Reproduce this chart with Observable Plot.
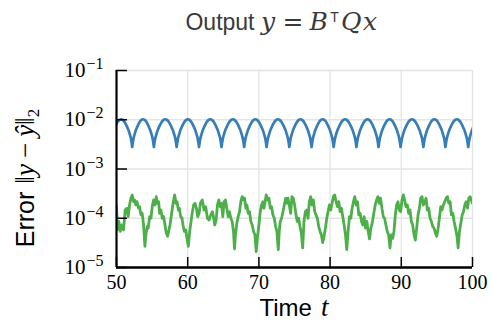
<!DOCTYPE html>
<html><head><meta charset="utf-8">
<script src="https://cdn.jsdelivr.net/npm/d3@7"></script>
<script src="https://cdn.jsdelivr.net/npm/@observablehq/plot@0.6"></script>
<style>
body{margin:0;background:#fff;}
#wrap{position:relative;width:491px;height:330px;}
#title{position:absolute;left:0;top:11px;width:564px;text-align:center;font-family:"Liberation Sans",Arial,sans-serif;font-size:23px;line-height:22px;color:#3a3a3a;white-space:nowrap;}
#title .m{font-family:"DejaVu Serif",serif;font-style:italic;font-size:25px;letter-spacing:1.5px;}
#title .r{font-family:"DejaVu Serif",serif;font-size:25px;margin:0 6px;}
#title sup{font-family:"Liberation Sans",sans-serif;font-size:14px;font-style:normal;vertical-align:0.6em;line-height:0;margin:0 2px 0 1px;}
</style></head>
<body>
<div id="wrap"><div id="title">Output <span class="m">y</span><span class="r">=</span><span class="m">B</span><sup>T</sup><span class="m">Qx</span></div></div>
<script>
// axis ticks
const xTicks = [50, 60, 70, 80, 90, 100];
const yTicks = [1e-5, 1e-4, 1e-3, 1e-2, 1e-1];

// blue series: times of the sharp minima, and one period's shape (phase within period, value)
const blueTroughT = [49.07, 52.21, 55.25, 58.45, 61.59, 64.75, 67.93, 71.08, 74.27, 77.4, 80.5, 83.7, 86.8, 89.9, 93.1, 96.2, 99.4, 102.54];
const blueProfilePhase = [0, 0.032, 0.064, 0.105, 0.16, 0.255, 0.35, 0.43, 0.5, 0.57, 0.65, 0.745, 0.84, 0.895, 0.936, 0.968];
const blueProfileV = [2.8e-3, 3.55e-3, 4.27e-3, 5.01e-3, 6.03e-3, 7.59e-3, 9.12e-3, 1.0e-2, 1.023e-2, 1.0e-2, 9.12e-3, 7.59e-3, 6.03e-3, 5.01e-3, 4.27e-3, 3.55e-3];

// green series: time and error (in units of 1e-4)
const greenT = [50.00,50.14,50.33,50.52,50.75,50.99,51.22,51.46,51.64,51.83,52.02,52.21,52.39,52.53,52.72,52.86,53.10,53.24,53.43,53.61,53.80,53.99,54.13,54.32,54.46,54.65,54.84,55.02,55.21,55.40,55.59,55.73,55.91,56.06,56.24,56.43,56.62,56.81,56.99,57.18,57.32,57.51,57.65,57.84,58.03,58.17,58.36,58.50,58.69,58.83,59.01,59.20,59.34,59.53,59.72,59.90,60.09,60.28,60.47,60.66,60.84,61.03,61.22,61.41,61.60,61.78,62.05,62.30,62.53,62.77,63.00,63.24,63.47,63.61,63.80,63.99,64.18,64.37,64.55,64.74,64.93,65.12,65.30,65.49,65.68,65.87,66.06,66.24,66.43,66.57,66.71,66.90,67.09,67.28,67.46,67.65,67.84,67.98,68.17,68.31,68.50,68.68,68.87,69.06,69.25,69.44,69.62,69.81,70.00,70.19,70.37,70.56,70.70,70.84,71.03,71.22,71.41,71.60,71.78,71.97,72.16,72.35,72.53,72.72,72.86,73.00,73.19,73.38,73.57,73.75,73.94,74.08,74.27,74.46,74.64,74.83,75.02,75.21,75.39,75.58,75.77,75.96,76.15,76.33,76.52,76.71,76.90,77.08,77.27,77.46,77.65,77.84,78.02,78.21,78.40,78.59,78.77,78.96,79.15,79.34,79.53,79.71,79.90,80.09,80.28,80.46,80.65,80.84,81.03,81.22,81.40,81.59,81.78,81.97,82.16,82.34,82.53,82.72,82.91,83.09,83.28,83.47,83.66,83.85,84.03,84.22,84.41,84.60,84.78,84.97,85.16,85.35,85.54,85.72,85.91,86.10,86.34,86.53,86.72,86.90,87.09,87.28,87.47,87.65,87.84,88.03,88.22,88.41,88.59,88.78,88.97,89.16,89.34,89.53,89.72,89.91,90.10,90.28,90.47,90.66,90.85,91.03,91.22,91.41,91.60,91.79,91.97,92.16,92.35,92.54,92.72,92.91,93.10,93.29,93.48,93.66,93.85,94.04,94.23,94.41,94.60,94.79,94.98,95.17,95.35,95.54,95.73,95.92,96.10,96.29,96.48,96.67,96.86,97.04,97.23,97.42,97.61,97.80,97.98,98.17,98.36,98.55,98.73,98.92,99.11,99.30,99.49,99.67,100.00];
const greenE4 = [1.72,0.58,0.86,0.54,0.73,0.58,1.47,1.60,1.08,1.86,2.55,2.97,2.17,2.35,1.86,2.17,1.60,1.72,1.17,1.26,0.73,0.27,0.46,0.68,0.63,1.08,1.00,1.72,2.35,1.86,2.75,2.01,2.17,1.26,1.47,1.00,1.08,0.73,0.50,0.43,0.54,0.73,1.00,1.60,2.35,2.97,2.01,2.17,1.47,1.60,1.08,1.00,0.73,0.54,0.58,0.39,0.27,0.54,0.86,1.36,1.86,2.01,1.60,1.08,1.26,2.01,2.35,1.47,1.72,1.00,0.92,1.17,1.36,1.08,0.73,0.92,1.86,2.35,1.72,2.01,1.08,2.17,2.35,1.60,1.08,1.36,1.00,0.86,0.54,0.24,0.46,0.79,1.08,1.36,2.17,2.75,2.35,2.55,1.60,1.86,1.26,1.36,0.86,0.73,0.54,0.46,0.21,0.43,0.73,1.36,1.86,2.17,1.60,2.01,2.97,2.35,2.55,1.60,1.72,1.17,1.00,0.68,0.54,0.23,0.54,0.86,1.00,1.36,1.86,2.55,2.01,2.55,1.86,1.26,2.75,2.55,1.86,1.17,0.86,1.00,0.68,0.50,0.25,0.86,1.36,1.47,1.00,2.17,2.75,1.86,2.35,1.36,1.17,1.00,0.68,0.54,0.46,0.32,0.43,0.63,1.00,1.36,1.86,1.47,2.01,2.75,2.97,2.17,1.72,2.17,1.36,1.60,1.08,0.73,0.46,0.23,0.54,1.08,1.00,1.60,2.17,2.75,1.86,2.17,1.17,1.26,0.86,0.73,1.08,0.63,0.86,0.54,0.38,0.63,0.79,1.17,1.86,2.35,2.75,2.01,2.55,1.60,1.08,1.00,0.73,0.54,0.46,0.25,0.46,0.39,0.54,1.17,1.86,2.17,1.47,1.36,2.35,2.97,2.35,1.72,1.86,1.26,1.47,0.86,0.73,0.46,0.36,0.63,1.17,1.60,2.55,2.75,1.86,2.17,2.55,1.47,1.60,1.00,0.86,0.68,0.63,0.50,0.43,0.63,1.00,1.72,1.47,1.86,2.17,2.55,2.75,2.01,2.17,1.17,1.26,0.86,0.63,0.46,0.25,0.54,0.79,1.17,1.36,1.86,2.17,1.60,2.55,2.75,2.01];

const blueRows = [];
for (let k = 0; k < blueTroughT.length - 1; k++) {
  const T0 = blueTroughT[k], T1 = blueTroughT[k + 1];
  blueProfilePhase.forEach((p, i) => blueRows.push({t: T0 + p * (T1 - T0), v: blueProfileV[i]}));
}
blueRows.push({t: blueTroughT[blueTroughT.length - 1], v: blueProfileV[0]});
const greenRows = greenT.map((t, i) => ({t, v: greenE4[i] * 1e-4}));

const W = 491, H = 330, mL = 116, mR = 19, mT = 70, mB = 63;
const pw = W - mL - mR, ph = H - mT - mB;
const grid = {stroke: "#e4e4e4", strokeOpacity: 1, strokeWidth: 1.3};

const chart = Plot.plot({
  width: W, height: H,
  marginLeft: mL, marginRight: mR, marginTop: mT, marginBottom: mB,
  style: {background: "white", color: "black", overflow: "visible"},
  x: {domain: [50, 100]},
  y: {type: "log", domain: [1e-5, 1e-1]},
  marks: [
    Plot.gridX(xTicks, grid),
    Plot.gridY(yTicks, grid),
    Plot.line(blueRows, {x: "t", y: "v", stroke: "#377eb8", strokeWidth: 2.7, clip: true}),
    Plot.line(greenRows, {x: "t", y: "v", stroke: "#4daf4a", strokeWidth: 2.8, clip: true}),
    Plot.tickY(yTicks, {y: d => d, insetRight: pw - 11, stroke: "black", strokeWidth: 1.5}),
    Plot.tickX(xTicks, {x: d => d, insetTop: ph - 10, stroke: "black", strokeWidth: 1.5}),
    Plot.ruleX([50], {stroke: "black", strokeWidth: 2.2}),
    Plot.ruleY([1e-5], {stroke: "black", strokeWidth: 2.5}),
    Plot.axisY(yTicks, {tickSize: 0, tickPadding: 13, label: null, fontSize: 21, fontFamily: "Liberation Serif",
      tickFormat: d => String(Math.round(Math.log10(d)))}),
    Plot.axisX(xTicks, {tickSize: 0, tickPadding: 7, label: null, fontSize: 20, fontFamily: "Liberation Serif",
      tickFormat: d => String(d)})
  ]
});

const svg = d3.select(chart);
svg.selectAll('g[aria-label="y-axis tick label"] text').each(function() {
  const e = this.textContent;
  const s = d3.select(this);
  s.text(null);
  s.append("tspan").text("10");
  s.append("tspan").attr("dx", 1).attr("dy", "-0.5em").attr("font-size", "16px").text(e.replace("-", "\u2212"));
});

// y label
const yl = svg.append("text")
  .attr("transform", "translate(34,178) rotate(-90)")
  .attr("text-anchor", "middle").attr("fill", "black").attr("font-size", 25);
yl.append("tspan").attr("font-family", "Liberation Sans, Arial, sans-serif").text("Error");
yl.append("tspan").attr("dx", 8).attr("font-family", "Liberation Serif, serif").attr("font-size", 27).text("\u2016");
yl.append("tspan").attr("font-family", "Liberation Serif, serif").attr("font-size", 27).attr("font-style", "italic").text("y");
yl.append("tspan").attr("dx", 6).attr("font-family", "Liberation Serif, serif").attr("font-size", 27).text("\u2212");
yl.append("tspan").attr("dx", 6).attr("font-family", "Liberation Serif, serif").attr("font-size", 27).attr("font-style", "italic").text("\u0177");
yl.append("tspan").attr("font-family", "Liberation Serif, serif").attr("font-size", 27).text("\u2016");
yl.append("tspan").attr("font-family", "Liberation Serif, serif").attr("font-size", 17).attr("dy", 5).text("2");

// x label
const xl = svg.append("text")
  .attr("x", 294).attr("y", 316)
  .attr("text-anchor", "middle").attr("fill", "black").attr("font-size", 24);
xl.append("tspan").attr("font-family", "Liberation Sans, Arial, sans-serif").text("Time");
xl.append("tspan").attr("dx", 9).attr("font-family", "Liberation Serif, serif").attr("font-size", 27).attr("font-style", "italic").text("t");

document.getElementById("wrap").appendChild(chart);
</script>
</body></html>
